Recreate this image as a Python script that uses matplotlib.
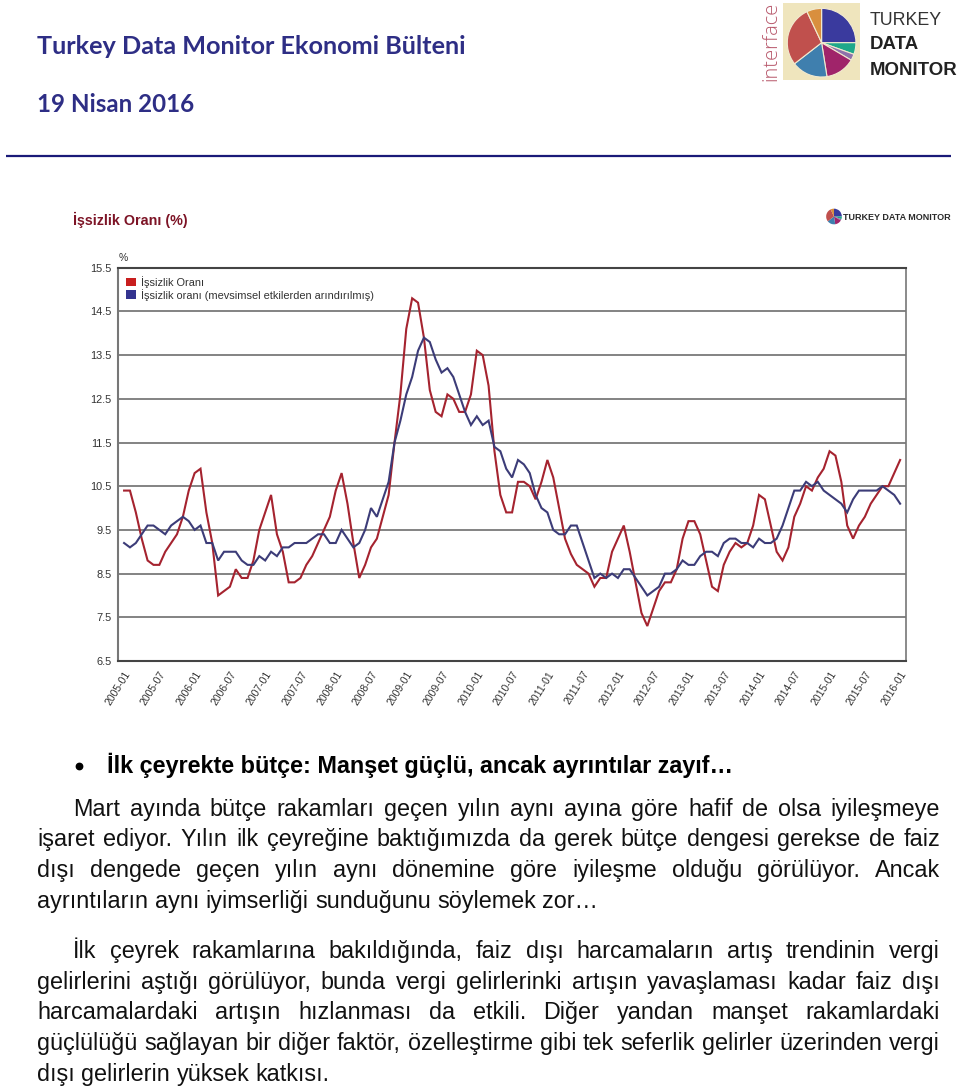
import matplotlib
matplotlib.use("Agg")
import matplotlib.pyplot as plt
from matplotlib.patches import Patch, Rectangle

W, H = 960, 1087

# ---- data ----
unemployment = [
    10.4, 10.4, 9.9, 9.3, 8.8, 8.7, 8.7, 9.0, 9.2, 9.4, 9.8, 10.4,
    10.8, 10.9, 9.9, 9.2, 8.0, 8.1, 8.2, 8.6, 8.4, 8.4, 8.8, 9.5,
    9.9, 10.3, 9.4, 9.0, 8.3, 8.3, 8.4, 8.7, 8.9, 9.2, 9.5, 9.8,
    10.4, 10.8, 10.1, 9.2, 8.4, 8.7, 9.1, 9.3, 9.8, 10.3, 11.5, 12.6,
    14.1, 14.8, 14.7, 13.9, 12.7, 12.2, 12.1, 12.6, 12.5, 12.2, 12.2, 12.6,
    13.6, 13.5, 12.8, 11.3, 10.3, 9.9, 9.9, 10.6, 10.6, 10.5, 10.2, 10.6,
    11.1, 10.7, 10.0, 9.3, 8.95, 8.7, 8.6, 8.5, 8.2, 8.4, 8.4, 9.0,
    9.3, 9.6, 9.0, 8.3, 7.6, 7.3, 7.7, 8.1, 8.3, 8.3, 8.6, 9.3,
    9.7, 9.7, 9.4, 8.8, 8.2, 8.1, 8.7, 9.0, 9.2, 9.1, 9.2, 9.6,
    10.3, 10.2, 9.6, 9.0, 8.8, 9.1, 9.8, 10.1, 10.5, 10.4, 10.7, 10.9,
    11.3, 11.2, 10.6, 9.6, 9.3, 9.6, 9.8, 10.1, 10.3, 10.5, 10.5, 10.8,
    11.1,
]
seasonally_adjusted = [
    9.2, 9.1, 9.2, 9.4, 9.6, 9.6, 9.5, 9.4, 9.6, 9.7, 9.8, 9.7,
    9.5, 9.6, 9.2, 9.2, 8.8, 9.0, 9.0, 9.0, 8.8, 8.7, 8.7, 8.9,
    8.8, 9.0, 8.9, 9.1, 9.1, 9.2, 9.2, 9.2, 9.3, 9.4, 9.4, 9.2,
    9.2, 9.5, 9.3, 9.1, 9.2, 9.5, 10.0, 9.8, 10.2, 10.6, 11.5, 12.0,
    12.6, 13.0, 13.6, 13.9, 13.8, 13.4, 13.1, 13.2, 13.0, 12.6, 12.2, 11.9,
    12.1, 11.9, 12.0, 11.4, 11.3, 10.9, 10.7, 11.1, 11.0, 10.8, 10.3, 10.0,
    9.9, 9.5, 9.4, 9.4, 9.6, 9.6, 9.2, 8.8, 8.4, 8.5, 8.4, 8.5,
    8.4, 8.6, 8.6, 8.4, 8.2, 8.0, 8.1, 8.2, 8.5, 8.5, 8.6, 8.8,
    8.7, 8.7, 8.9, 9.0, 9.0, 8.9, 9.2, 9.3, 9.3, 9.2, 9.2, 9.1,
    9.3, 9.2, 9.2, 9.3, 9.6, 10.0, 10.4, 10.4, 10.6, 10.5, 10.6, 10.4,
    10.3, 10.2, 10.1, 9.9, 10.2, 10.4, 10.4, 10.4, 10.4, 10.5, 10.4, 10.3,
    10.1,
]
months = [f"{2005 + i // 12}-{i % 12 + 1:02d}" for i in range(len(unemployment))]
x_tick_labels = months[::6]
y_ticks = [6.5, 7.5, 8.5, 9.5, 10.5, 11.5, 12.5, 13.5, 14.5, 15.5]
series_names = ["İşsizlik Oranı", "İşsizlik oranı (mevsimsel etkilerden arındırılmış)"]
logo_shares = [25, 5.5, 3, 14, 17, 28.5, 7]
logo_colors = ["#3a3a9e", "#1fa88a", "#8f72ab", "#a0246a", "#3f7fae", "#c0504d", "#d98f3e"]

body_first = [
    ("Mart ayında bütçe rakamları geçen yılın aynı ayına göre hafif de olsa iyileşmeye", 73, 816, True),
    ("işaret ediyor. Yılın ilk çeyreğine baktığımızda da gerek bütçe dengesi gerekse de faiz", 37, 846, True),
    ("dışı dengede geçen yılın aynı dönemine göre iyileşme olduğu görülüyor. Ancak", 37, 877, True),
    ("ayrıntıların aynı iyimserliği sunduğunu söylemek zor…", 37, 908, False),
]
body_second = [
    ("İlk çeyrek rakamlarına bakıldığında, faiz dışı harcamaların artış trendinin vergi", 73, 958, True),
    ("gelirlerini aştığı görülüyor, bunda vergi gelirlerinki artışın yavaşlaması kadar faiz dışı", 37, 989, True),
    ("harcamalardaki artışın hızlanması da etkili. Diğer yandan manşet rakamlardaki", 37, 1019, True),
    ("güçlülüğü sağlayan bir diğer faktör, özelleştirme gibi tek seferlik gelirler üzerinden vergi", 37, 1050, True),
    ("dışı gelirlerin yüksek katkısı.", 37, 1081, False),
]

# ---- page ----
fig = plt.figure(figsize=(W / 100, H / 100), dpi=100, facecolor="white")
page = fig.add_axes([0, 0, 1, 1])
page.set_xlim(0, W)
page.set_ylim(H, 0)
page.axis("off")


def axes_px(x0, y0, x1, y1, **kw):
    return fig.add_axes([x0 / W, 1 - y1 / H, (x1 - x0) / W, (y1 - y0) / H], **kw)


LOGO_FONT = "Liberation Sans"
HEAD = "#2e2e85"
page.text(37, 54, "Turkey Data Monitor Ekonomi Bülteni", family="Lato", weight="bold",
          fontsize=18.2, color=HEAD, va="baseline")
page.text(37, 112, "19 Nisan 2016", family="Lato", weight="bold",
          fontsize=17.4, color=HEAD, va="baseline")
page.plot([6, 951], [156, 156], color="#1a1a78", lw=1.6, solid_capstyle="butt")

# top logo
page.add_patch(Rectangle((783, 3), 77, 77, facecolor="#efe5bd", edgecolor="none"))
page.text(771, 41, "interface", rotation=90, ha="center", va="center", family="Open Sans",
          weight="light", fontsize=14.5, color="#b8596c")
big = axes_px(786.6, 7.7, 856.6, 77.7)
big.pie(logo_shares, colors=logo_colors, startangle=90, counterclock=False, radius=1.0,
        wedgeprops=dict(edgecolor="#f2ead0", linewidth=0.8))
big.set_xlim(-1.02, 1.02)
big.set_ylim(-1.02, 1.02)
page.text(870, 25, "TURKEY", family=LOGO_FONT, fontsize=12.8, color="#333333", va="baseline")
page.text(870, 49, "DATA", family=LOGO_FONT, fontsize=13.4, color="#222222", va="baseline", weight="bold")
page.text(870, 75, "MONITOR", family=LOGO_FONT, fontsize=13.4, color="#222222", va="baseline", weight="bold")

# chart heading and small logo
page.text(73, 225, "İşsizlik Oranı (%)", family="Liberation Sans", weight="bold",
          fontsize=10.3, color="#7d1426", va="baseline")
small = axes_px(826, 208.5, 842, 224.5)
small.pie(logo_shares, colors=logo_colors, startangle=90, counterclock=False, radius=1.0)
small.set_xlim(-1.02, 1.02)
small.set_ylim(-1.02, 1.02)
page.text(843, 220.5, "TURKEY DATA MONITOR", family=LOGO_FONT, weight="bold",
          fontsize=6.5, color="#2a2a2a", va="baseline")

# ---- chart ----
ax = axes_px(118.2, 267.7, 906, 661)
xs = range(len(months))
ax.plot(xs, unemployment, color="#a5232f", lw=1.5, solid_joinstyle="miter", zorder=3)
ax.plot(xs, seasonally_adjusted, color="#3c3c78", lw=1.5, solid_joinstyle="miter", zorder=4)
ax.set_xlim(-1, len(months))
ax.set_ylim(6.5, 15.5)
ax.set_yticks(y_ticks, [f"{v:.1f}" for v in y_ticks], family="Liberation Sans",
              fontsize=7.9, color="#333333")
ax.set_xticks(list(xs)[::6], x_tick_labels, rotation=58, ha="right", va="top",
              rotation_mode="anchor", family="Liberation Sans", fontsize=7.5, color="#333333")
ax.tick_params(axis="both", length=0)
ax.tick_params(axis="y", pad=5)
ax.tick_params(axis="x", pad=6)
ax.grid(axis="y", color="#7a7a7a", lw=1.3)
ax.set_axisbelow(True)
for side, colour, lw in [("left", "#777777", 1.5), ("right", "#777777", 1.2),
                         ("top", "#444444", 1.5), ("bottom", "#444444", 1.5)]:
    ax.spines[side].set_color(colour)
    ax.spines[side].set_linewidth(lw)
ax.text(0.0, 1.012, "%", transform=ax.transAxes, family="Liberation Sans", fontsize=7.5,
        color="#333333", va="bottom")
ax.legend(handles=[Patch(facecolor="#c81e1e", label=series_names[0]),
                   Patch(facecolor="#33338f", label=series_names[1])],
          loc="upper left", bbox_to_anchor=(0.0, 1.0), frameon=False,
          prop={"family": "Liberation Sans", "size": 7.9}, labelcolor="#333333",
          handlelength=0.85, handleheight=0.85, handletextpad=0.45, labelspacing=0.08,
          borderaxespad=0.3, borderpad=0.45)

# ---- body text ----
FS = 16.8
RIGHT = 940
page.plot([79], [766], "o", color="black", ms=4.6)
page.text(107, 773, "İlk çeyrekte bütçe: Manşet güçlü, ancak ayrıntılar zayıf…",
          family="Liberation Sans", weight="bold", fontsize=FS, color="black", va="baseline")

renderer = fig.canvas.get_renderer()


def put_line(line, x0, y, justify):
    words = line.split(" ")
    items = [page.text(x0, y, w, family="Liberation Sans", fontsize=FS, color="#111111",
                       va="baseline") for w in words]
    widths = [t.get_window_extent(renderer).width for t in items]
    probe = page.text(0, 0, "a a", family="Liberation Sans", fontsize=FS)
    pa = page.text(0, 0, "aa", family="Liberation Sans", fontsize=FS)
    natural = probe.get_window_extent(renderer).width - pa.get_window_extent(renderer).width
    probe.remove()
    pa.remove()
    gap = (RIGHT - x0 - sum(widths)) / (len(words) - 1) if justify else natural
    x = x0
    for t, w in zip(items, widths):
        t.set_x(x)
        x += w + gap


for row in body_first + body_second:
    put_line(*row)

fig.savefig("out.png", dpi=100)
